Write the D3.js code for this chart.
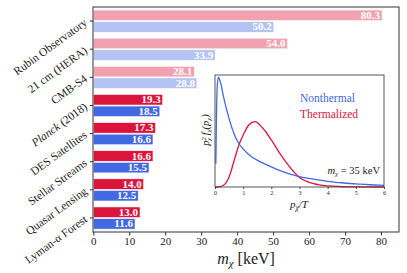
<!DOCTYPE html>
<html>
<head>
<meta charset="utf-8">
<script src="https://cdn.jsdelivr.net/npm/d3@7"></script>
<style>
  body { margin: 0; background: #fff; }
  svg { display: block; font-family: "Liberation Serif", "DejaVu Serif", serif; }
</style>
</head>
<body>
<div id="chart"></div>
<script>
// bar chart data
const experiments = ["Rubin Observatory", "21 cm (HERA)", "CMB-S4", "Planck (2018)",
  "DES Satellites", "Stellar Streams", "Quasar Lensing", "Lyman-\u03b1 Forest"];
const thermalized = [80.3, 54.0, 28.1, 19.3, 17.3, 16.6, 14.0, 13.0];
const nonthermal = [50.2, 33.9, 28.8, 18.5, 16.6, 15.5, 12.5, 11.6];
const future = [true, true, true, false, false, false, false, false];
const xTicks = [0, 10, 20, 30, 40, 50, 60, 70, 80];

// inset curves (p/T, p^2 f)
const nonthermalCurve = [[0.03, 0.21], [0.05, 0.6], [0.08, 0.9], [0.12, 0.98], [0.2, 0.93],
  [0.3, 0.81], [0.5, 0.61], [0.7, 0.46], [0.86, 0.384], [1.0, 0.34], [1.25, 0.28],
  [1.5, 0.24], [2.0, 0.18], [2.5, 0.128], [3.0, 0.092], [3.5, 0.07], [4.0, 0.051],
  [4.5, 0.038], [5.0, 0.027], [5.5, 0.02], [6.0, 0.015]];
const thermalCurve = [[0, 0], [0.15, 0.002], [0.3, 0.015], [0.5, 0.09], [0.7, 0.255],
  [0.86, 0.384], [1.0, 0.464], [1.2, 0.554], [1.42, 0.583], [1.7, 0.524], [2.0, 0.42],
  [2.3, 0.3], [2.6, 0.196], [3.0, 0.085], [3.5, 0.03], [4.0, 0.01], [4.5, 0.004],
  [5.0, 0.001], [6.0, 0]];
const insetTicks = [0, 1, 2, 3, 4, 5, 6];

const width = 407, height = 273;
const crimson = "#dc143c", royal = "#4169e1";
const crimsonLight = "#f2a1b1", royalLight = "#b3c3f3";

const svg = d3.select("#chart").append("svg")
  .attr("width", width).attr("height", height);

const x = d3.scaleLinear().domain([0, 85]).range([93.3, 399]);
const y = d3.scaleBand().domain(experiments).range([7, 232]);

// bars
const barH = 10.6;
const groups = svg.append("g").selectAll("g")
  .data(experiments)
  .join("g")
  .attr("transform", d => `translate(0,${y(d) + y.bandwidth() / 2})`);

groups.append("rect")
  .attr("x", x(0)).attr("y", -barH - 0.4)
  .attr("width", (d, i) => x(thermalized[i]) - x(0)).attr("height", barH)
  .attr("fill", (d, i) => future[i] ? crimsonLight : crimson)
  .attr("stroke", "#fff").attr("stroke-width", 0.6);
groups.append("rect")
  .attr("x", x(0)).attr("y", 0.6)
  .attr("width", (d, i) => x(nonthermal[i]) - x(0)).attr("height", barH)
  .attr("fill", (d, i) => future[i] ? royalLight : royal)
  .attr("stroke", "#fff").attr("stroke-width", 0.6);

groups.append("text")
  .attr("x", (d, i) => x(thermalized[i]) - 2).attr("y", -2.2)
  .attr("text-anchor", "end").attr("fill", "#fff")
  .style("font-size", "11px").style("font-weight", "bold")
  .text((d, i) => thermalized[i].toFixed(1));
groups.append("text")
  .attr("x", (d, i) => x(nonthermal[i]) - 2).attr("y", 9.4)
  .attr("text-anchor", "end").attr("fill", "#fff")
  .style("font-size", "11px").style("font-weight", "bold")
  .text((d, i) => nonthermal[i].toFixed(1));

// axes frame
svg.append("rect")
  .attr("x", x(0) - 0.3).attr("y", 7).attr("width", 399 - x(0) + 0.3).attr("height", 225)
  .attr("fill", "none").attr("stroke", "#333").attr("stroke-width", 1);

const xAxis = svg.append("g")
  .attr("transform", "translate(0,232)")
  .call(d3.axisBottom(x).tickValues(xTicks).tickSize(3.5).tickPadding(2).tickFormat(d3.format("d")));
xAxis.select(".domain").remove();
xAxis.selectAll("line").attr("stroke", "#333");
xAxis.selectAll("text").style("font-size", "11px").style("font-family", "Liberation Serif").attr("fill", "#222");

const yAxis = svg.append("g")
  .attr("transform", `translate(${x(0)},0)`)
  .call(d3.axisLeft(y).tickSize(3.5).tickFormat(""));
yAxis.select(".domain").remove();
yAxis.selectAll("line").attr("stroke", "#333");

// rotated category labels
const labels = svg.append("g").selectAll("text")
  .data(experiments)
  .join("text")
  .attr("text-anchor", "end")
  .attr("transform", d => `translate(88,${y(d) + y.bandwidth() / 2 + 3}) rotate(-36)`)
  .style("font-size", "11.5px").attr("fill", "#222");
labels.each(function (d) {
  const t = d3.select(this);
  if (d.startsWith("Planck")) {
    t.append("tspan").style("font-style", "italic").text("Planck");
    t.append("tspan").text(" (2018)");
  } else {
    t.text(d);
  }
});

// x label
const xl = svg.append("text")
  .attr("x", 246).attr("y", 264).attr("text-anchor", "middle")
  .style("font-size", "16px").attr("fill", "#222");
xl.append("tspan").style("font-style", "italic").text("m");
xl.append("tspan").attr("dy", 3).style("font-size", "11px").style("font-style", "italic").text("\u03c7");
xl.append("tspan").attr("dy", -3).text(" [keV]");

// ---- inset ----
const ix = d3.scaleLinear().domain([0, 6]).range([215, 384]);
const iy = d3.scaleLinear().domain([0, 1]).range([187, 75]);

svg.append("rect")
  .attr("x", 215).attr("y", 75).attr("width", 169).attr("height", 112)
  .attr("fill", "#fff");

const line = d3.line().x(d => ix(d[0])).y(d => iy(d[1])).curve(d3.curveMonotoneX);
svg.append("path").datum(thermalCurve)
  .attr("d", line).attr("fill", "none").attr("stroke", crimson).attr("stroke-width", 1.3);
svg.append("path").datum(nonthermalCurve)
  .attr("d", line).attr("fill", "none").attr("stroke", royal).attr("stroke-width", 1.3);

svg.append("rect")
  .attr("x", 215).attr("y", 75).attr("width", 169).attr("height", 112)
  .attr("fill", "none").attr("stroke", "#444").attr("stroke-width", 0.9);

const ixAxis = svg.append("g")
  .attr("transform", "translate(0,187)")
  .call(d3.axisBottom(ix).tickValues(insetTicks).tickSize(2).tickPadding(1.5).tickFormat(d3.format("d")));
ixAxis.select(".domain").remove();
ixAxis.selectAll("line").attr("stroke", "#444");
ixAxis.selectAll("text").style("font-size", "6px").style("font-family", "Liberation Serif").attr("fill", "#222");

const ixl = svg.append("text")
  .attr("x", 299).attr("y", 208).attr("text-anchor", "middle")
  .style("font-size", "11px").attr("fill", "#222");
ixl.append("tspan").style("font-style", "italic").text("p");
ixl.append("tspan").attr("dy", 2).style("font-size", "7.5px").style("font-style", "italic").text("\u03c7");
ixl.append("tspan").attr("dy", -2).style("font-style", "italic").text("/T");

const iyl = svg.append("text")
  .attr("transform", "translate(209,130) rotate(-90)").attr("text-anchor", "middle")
  .style("font-size", "10.5px").style("font-style", "italic").attr("fill", "#222");
iyl.append("tspan").text("p");
iyl.append("tspan").attr("dy", -3).style("font-size", "6.5px").text("2");
iyl.append("tspan").attr("dx", -3.5).attr("dy", 5).style("font-size", "6.5px").text("\u03c7");
iyl.append("tspan").attr("dy", -2).text(" f");
iyl.append("tspan").attr("dy", 2).style("font-size", "6.5px").text("\u03c7");
iyl.append("tspan").attr("dy", -2).text("(p");
iyl.append("tspan").attr("dy", 2).style("font-size", "6.5px").text("\u03c7");
iyl.append("tspan").attr("dy", -2).text(")");

svg.append("text").attr("x", 300).attr("y", 102)
  .style("font-size", "11.5px").attr("fill", royal).text("Nonthermal");
svg.append("text").attr("x", 300).attr("y", 118)
  .style("font-size", "11.5px").attr("fill", crimson).text("Thermalized");

const mt = svg.append("text").attr("x", 380).attr("y", 174).attr("text-anchor", "end")
  .style("font-size", "10.5px").attr("fill", "#222");
mt.append("tspan").style("font-style", "italic").text("m");
mt.append("tspan").attr("dy", 2).style("font-size", "7px").style("font-style", "italic").text("\u03c7");
mt.append("tspan").attr("dy", -2).text(" = 35 keV");
</script>
</body>
</html>
